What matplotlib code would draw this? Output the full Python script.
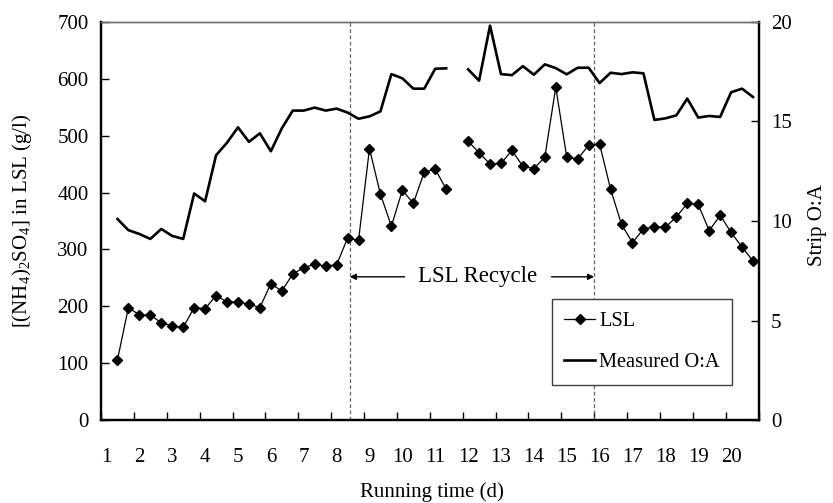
import numpy as np
import matplotlib
matplotlib.use("Agg")
import matplotlib.pyplot as plt

plt.rcParams['font.family'] = ['Liberation Serif', 'DejaVu Serif']
plt.rcParams['mathtext.fontset'] = 'custom'
plt.rcParams['mathtext.rm'] = 'Liberation Serif'
plt.rcParams['mathtext.it'] = 'Liberation Serif:italic'
plt.rcParams['mathtext.default'] = 'regular'

# ---- data (one slot per 8-h sample, 3 slots per day; slot 32 missing) ----
day_labels = [str(d) for d in range(1, 21)]

lsl = [106, 198, 185, 185, 171, 166, 163, 198, 196, 219, 208, 208, 204, 198, 240,
       227, 257, 268, 274, 271, 273, 320,
       316, 477, 397, 341, 404, 381, 436, 441, 406,
       np.nan,
       490, 470, 450, 451, 474, 446, 442, 462, 585, 462, 459, 483, 485,
       406, 344, 312, 336, 340, 339, 357, 381, 379, 333, 360, 330, 304, 280]

oa = [10.1, 9.54, 9.35, 9.1, 9.6, 9.25, 9.1, 11.38, 10.99, 13.3, 13.93, 14.7, 13.97,
      14.4, 13.5, 14.65, 15.54, 15.54, 15.69, 15.54, 15.64, 15.44,
      15.13, 15.25, 15.5, 17.37, 17.16, 16.64, 16.64, 17.64, 17.66,
      np.nan,
      17.61, 17.04, 19.8, 17.37, 17.32, 17.77, 17.34, 17.86, 17.67, 17.36, 17.69, 17.69, 16.92,
      17.44, 17.37, 17.46, 17.41, 15.07, 15.15, 15.3, 16.14, 15.19, 15.27, 15.22, 16.46, 16.64, 16.22]

n_categories = 60          # category slots on the x axis (first slot empty)
recycle_start = 22.7       # dashed markers (category coordinates)
recycle_end = 45.0

x = np.arange(1, len(lsl) + 1) + 0.5

fig = plt.figure(figsize=(8.33, 5.03), dpi=100)
ax = fig.add_axes([0.12125, 0.16441, 0.78932, 0.79245])
ax2 = ax.twinx()

ax.plot(x, lsl, color='black', lw=0.9, marker='D', markersize=5.2,
        markerfacecolor='black', markeredgecolor='black', label='LSL', zorder=3)
ax2.plot(x, oa, color='black', lw=1.9, label='Measured O:A', zorder=3)

ax.set_xlim(0, n_categories)
ax.set_ylim(0, 700)
ax2.set_ylim(0, 20)
ax.set_yticks(np.arange(0, 701, 100))
ax2.set_yticks(np.arange(0, 21, 5))

ax.set_xticks(np.arange(0, n_categories + 1, 3))
ax.set_xticklabels([])
ax.set_xticks(np.arange(0.5, n_categories, 3), minor=True)
ax.set_xticklabels(day_labels, minor=True)

ax.tick_params(axis='x', which='major', direction='in', length=6, width=1, color='black')
ax.tick_params(axis='x', which='minor', length=0, pad=20, labelsize=15)
ax.tick_params(axis='y', direction='in', length=6, width=1, pad=9, labelsize=15)
ax2.tick_params(axis='y', direction='in', length=6, width=1, pad=9, labelsize=15)

for a in (ax, ax2):
    for s in ('left', 'right', 'bottom'):
        a.spines[s].set_linewidth(1.6)
        a.spines[s].set_color('black')
    a.spines['top'].set_linewidth(1.0)
    a.spines['top'].set_color('#707070')

for xv in (recycle_start, recycle_end):
    ax.axvline(xv, color='#666666', lw=0.9, ls=(0, (3, 2)), zorder=2)

y_arrow = 252
ax.text(34.4, y_arrow, 'LSL Recycle', ha='center', va='center', fontsize=16.5)
ax.annotate('', xy=(recycle_start, y_arrow), xytext=(27.7, y_arrow),
            arrowprops=dict(arrowstyle='-|>', color='black', lw=1.0,
                            mutation_scale=9, shrinkA=0, shrinkB=0))
ax.annotate('', xy=(recycle_end, y_arrow), xytext=(41.1, y_arrow),
            arrowprops=dict(arrowstyle='-|>', color='black', lw=1.0,
                            mutation_scale=9, shrinkA=0, shrinkB=0))

ax.text(-0.12, 0.5, r'[(NH$_4$)$_2$SO$_4$] in LSL (g/l)', rotation=90,
        ha='center', va='center', fontsize=15, transform=ax.transAxes)
ax.text(1.09, 0.49, 'Strip O:A', rotation=90, ha='center', va='center',
        fontsize=15, transform=ax.transAxes)
ax.text(0.503, -0.18, 'Running time (d)', ha='center', va='center',
        fontsize=15, transform=ax.transAxes)

h1, l1 = ax.get_legend_handles_labels()
h2, l2 = ax2.get_legend_handles_labels()
leg = ax2.legend(h1 + h2, l1 + l2, loc='upper left', bbox_to_anchor=(0.686, 0.304),
                 fontsize=14.7, frameon=True, fancybox=False, edgecolor='#404040',
                 framealpha=1, borderpad=0.6, labelspacing=1.1, handlelength=1.5,
                 handletextpad=0.2, borderaxespad=0)
leg.get_frame().set_linewidth(1.0)

fig.savefig('out.png', dpi=100)
